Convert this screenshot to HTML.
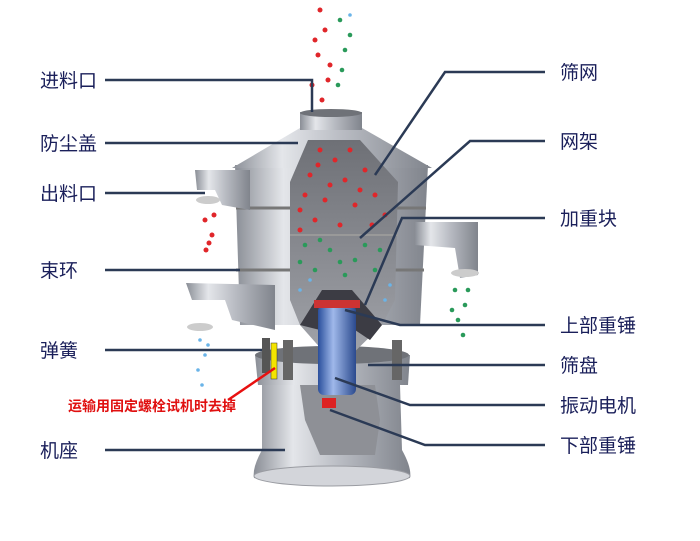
<!DOCTYPE html>
<html><head><meta charset="utf-8"><style>
html,body{margin:0;padding:0;background:#fff;}
svg{display:block;}
text{font-family:"Liberation Sans","Noto Sans CJK SC",sans-serif;}
</style></head><body>
<svg width="700" height="541" viewBox="0 0 700 541" xmlns="http://www.w3.org/2000/svg">
<defs>
<linearGradient id="m" x1="0" x2="1">
<stop offset="0" stop-color="#8a8e96"/><stop offset="0.25" stop-color="#e4e6ea"/><stop offset="0.55" stop-color="#b9bcc3"/><stop offset="1" stop-color="#80848c"/></linearGradient>
<linearGradient id="b" x1="0" x2="1">
<stop offset="0" stop-color="#2a4f9c"/><stop offset="0.4" stop-color="#9fb8ea"/><stop offset="1" stop-color="#2b4a8e"/></linearGradient>
<linearGradient id="in" x1="0" y1="0" x2="0" y2="1">
<stop offset="0" stop-color="#6e7076"/><stop offset="1" stop-color="#a4a6ac"/></linearGradient>
</defs>
<path d="M262,385 L400,385 L402,450 Q412,468 410,478 Q332,492 254,478 Q252,468 262,450 Z" fill="url(#m)"/>
<ellipse cx="332" cy="476" rx="78" ry="10" fill="#d3d5da" stroke="#9a9ca2"/>
<path d="M300,385 L375,385 L380,420 L375,455 L320,455 L305,420 Z" fill="#8e9096"/>
<path d="M255,355 L410,355 L408,385 L258,385 Z" fill="url(#m)"/>
<ellipse cx="332" cy="355" rx="77" ry="9" fill="#6f7278"/>
<rect x="262" y="338" width="8" height="35" fill="#555"/><rect x="283" y="340" width="10" height="40" fill="#666"/>
<rect x="392" y="340" width="10" height="40" fill="#666"/>
<rect x="271" y="343" width="6" height="36" fill="#f4e400" stroke="#333" stroke-width="0.5"/>
<path d="M235,165 L428,165 L420,325 L240,325 Z" fill="url(#m)"/>
<path d="M236,208 L426,208" stroke="#777" stroke-width="3"/>
<path d="M236,270 L424,270" stroke="#777" stroke-width="3"/>
<path d="M232,168 L300,128 L362,128 L432,168 Z" fill="url(#m)"/>
<rect x="300" y="112" width="62" height="18" fill="url(#m)"/>
<ellipse cx="331" cy="113" rx="31" ry="4" fill="#6f7278"/>
<path d="M195,170 L250,170 L250,210 L222,205 L215,190 L197,190 Z" fill="url(#m)"/>
<ellipse cx="208" cy="200" rx="12" ry="4" fill="#ccc"/>
<path d="M415,222 L478,222 L478,275 L460,278 L455,248 L415,245 Z" fill="url(#m)"/>
<ellipse cx="465" cy="273" rx="14" ry="4" fill="#ccc"/>
<path d="M186,283 L275,285 L275,330 L232,320 L225,300 L192,300 Z" fill="url(#m)"/>
<ellipse cx="200" cy="327" rx="13" ry="4" fill="#ccc"/>
<path d="M290,182 L308,140 L360,140 L398,182 L395,300 L382,325 L338,368 L300,325 L290,300 Z" fill="url(#in)"/>
<path d="M290,235 L398,235" stroke="#999" stroke-width="2"/>
<path d="M300,325 L322,290 L352,290 L382,325 L370,340 L355,330 L320,330 Z" fill="#3c3c44"/>
<rect x="318" y="305" width="38" height="90" rx="6" fill="url(#b)"/>
<rect x="314" y="300" width="46" height="8" fill="#c33"/>
<rect x="322" y="398" width="14" height="10" fill="#d22"/>
<g fill="#e0262a">
<circle cx="320" cy="150" r="2.5"/><circle cx="335" cy="160" r="2.5"/><circle cx="350" cy="150" r="2.5"/><circle cx="310" cy="175" r="2.5"/><circle cx="345" cy="180" r="2.5"/><circle cx="365" cy="170" r="2.5"/><circle cx="305" cy="195" r="2.5"/><circle cx="325" cy="200" r="2.5"/><circle cx="355" cy="205" r="2.5"/><circle cx="375" cy="195" r="2.5"/><circle cx="315" cy="220" r="2.5"/><circle cx="340" cy="225" r="2.5"/><circle cx="385" cy="215" r="2.5"/><circle cx="300" cy="230" r="2.5"/>
<circle cx="330" cy="185" r="2.5"/><circle cx="360" cy="190" r="2.5"/><circle cx="318" cy="165" r="2.5"/><circle cx="372" cy="225" r="2.5"/><circle cx="300" cy="210" r="2.5"/>
<circle cx="320" cy="10" r="2.5"/><circle cx="325" cy="30" r="2.5"/><circle cx="318" cy="55" r="2.5"/><circle cx="328" cy="80" r="2.5"/><circle cx="322" cy="100" r="2.5"/><circle cx="315" cy="40" r="2.5"/><circle cx="330" cy="65" r="2.5"/><circle cx="312" cy="85" r="2.5"/>
<circle cx="205" cy="220" r="2.5"/><circle cx="212" cy="235" r="2.5"/><circle cx="206" cy="250" r="2.5"/><circle cx="214" cy="215" r="2.5"/><circle cx="209" cy="243" r="2.5"/>
</g>
<g fill="#2a9a5a">
<circle cx="305" cy="245" r="2.3"/><circle cx="330" cy="250" r="2.3"/><circle cx="355" cy="260" r="2.3"/><circle cx="380" cy="250" r="2.3"/><circle cx="315" cy="270" r="2.3"/><circle cx="345" cy="275" r="2.3"/><circle cx="375" cy="270" r="2.3"/><circle cx="320" cy="240" r="2.3"/><circle cx="365" cy="245" r="2.3"/><circle cx="340" cy="262" r="2.3"/><circle cx="300" cy="262" r="2.3"/>
<circle cx="340" cy="20" r="2.3"/><circle cx="345" cy="50" r="2.3"/><circle cx="338" cy="85" r="2.3"/><circle cx="350" cy="35" r="2.3"/><circle cx="342" cy="70" r="2.3"/>
<circle cx="455" cy="290" r="2.3"/><circle cx="465" cy="305" r="2.3"/><circle cx="458" cy="320" r="2.3"/><circle cx="463" cy="335" r="2.3"/><circle cx="468" cy="290" r="2.3"/><circle cx="452" cy="310" r="2.3"/>
</g>
<g fill="#6ab4e8">
<circle cx="300" cy="290" r="1.8"/><circle cx="390" cy="285" r="1.8"/><circle cx="350" cy="15" r="1.8"/><circle cx="200" cy="340" r="1.8"/><circle cx="205" cy="355" r="1.8"/><circle cx="198" cy="370" r="1.8"/><circle cx="208" cy="345" r="1.8"/><circle cx="202" cy="385" r="1.8"/><circle cx="310" cy="280" r="1.8"/><circle cx="385" cy="300" r="1.8"/>
</g>
<g stroke="#2b3a55" stroke-width="2.5" fill="none">
<path d="M105,80 H312 V112"/>
<path d="M105,143 H298"/>
<path d="M105,193 H205"/>
<path d="M105,270 H240"/>
<path d="M105,350 H262"/>
<path d="M105,450 H285"/>
<path d="M545,72 H445 L375,175"/>
<path d="M545,141 H470 L360,238"/>
<path d="M545,218 H402 L365,305"/>
<path d="M545,325 H400 L345,310"/>
<path d="M545,365 H368"/>
<path d="M545,405 H410 L335,378"/>
<path d="M545,445 H425 L330,410"/>
</g>
<path d="M228,400 L275,368" stroke="#e81010" stroke-width="2.5"/>
<g fill="#1a1f5a" font-size="19">
<text x="40" y="87">进料口</text><text x="40" y="150">防尘盖</text><text x="40" y="200">出料口</text>
<text x="40" y="277">束环</text><text x="40" y="357">弹簧</text><text x="40" y="457">机座</text>
<text x="560" y="79">筛网</text><text x="560" y="148">网架</text><text x="560" y="225">加重块</text>
<text x="560" y="332">上部重锤</text><text x="560" y="372">筛盘</text><text x="560" y="412">振动电机</text><text x="560" y="452">下部重锤</text>
</g>
<text x="68" y="411" font-size="14" fill="#e01010" font-weight="bold">运输用固定螺栓试机时去掉</text>
</svg>
</body></html>
